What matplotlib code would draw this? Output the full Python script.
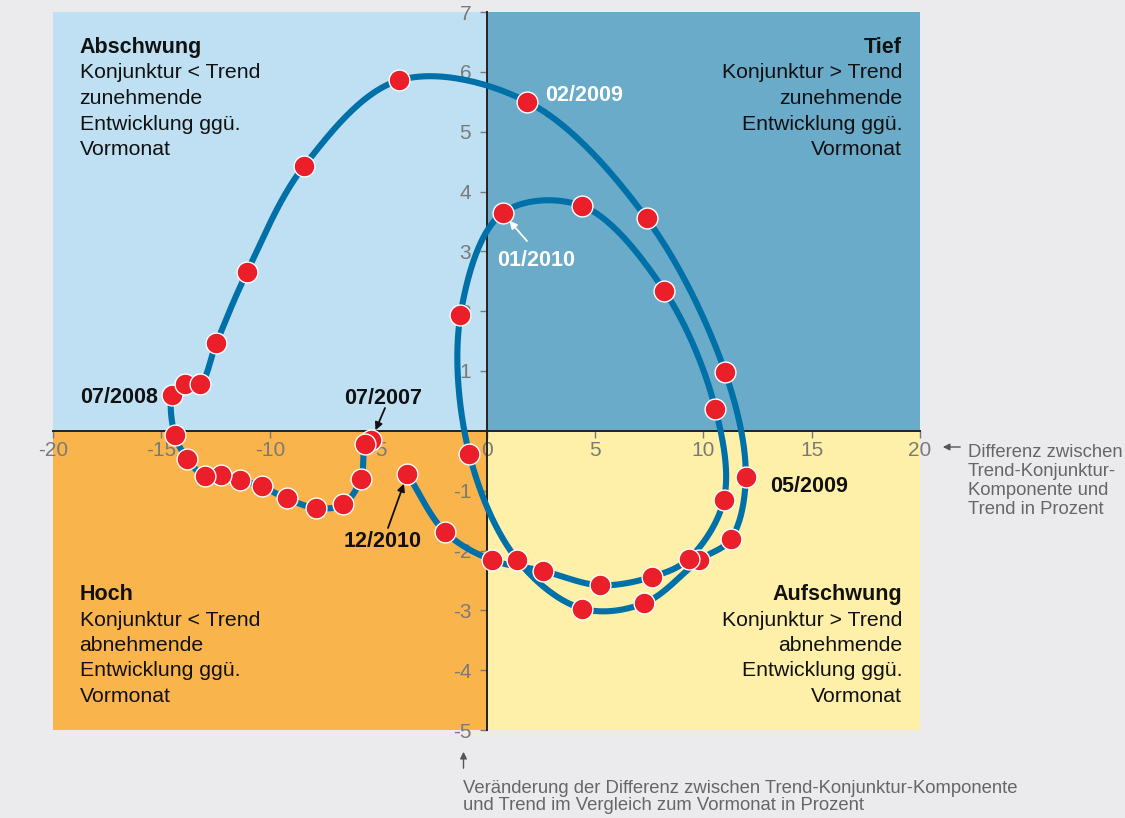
import matplotlib
matplotlib.use("Agg")
import matplotlib.pyplot as plt
from matplotlib.patches import FancyArrowPatch
import numpy as np

plt.rcParams['font.family'] = ['Liberation Sans', 'DejaVu Sans']

# monthly points 07/2007 .. 12/2010
# x: Differenz zwischen Trend-Konjunktur-Komponente und Trend (%)
# y: Veraenderung dieser Differenz zum Vormonat (%)
x_vals = [-5.31, -5.59, -5.79, -6.61, -7.87, -9.22, -10.38, -11.36, -12.25, -13.0,
          -13.8, -14.38, -14.49, -13.92, -13.2, -12.47, -11.04, -8.41, -4.02, 1.88,
          7.39, 11.0, 11.96, 11.27, 9.82, 7.28, 4.40, 1.43, -0.79, -1.2,
          0.74, 4.40, 8.21, 10.56, 10.95, 9.33, 7.64, 5.22, 2.60, 0.25,
          -1.91, -3.65]
y_vals = [-0.15, -0.22, -0.80, -1.23, -1.29, -1.13, -0.93, -0.82, -0.74, -0.76,
          -0.47, -0.07, 0.60, 0.78, 0.79, 1.46, 2.66, 4.43, 5.86, 5.50,
          3.55, 0.99, -0.77, -1.81, -2.16, -2.88, -2.97, -2.16, -0.39, 1.94,
          3.64, 3.76, 2.34, 0.37, -1.15, -2.14, -2.44, -2.58, -2.34, -2.16,
          -1.69, -0.72]

x_ticks = [-20, -15, -10, -5, 0, 5, 10, 15, 20]
y_ticks = [-5, -4, -3, -2, -1, 1, 2, 3, 4, 5, 6, 7]

quad_titles = ['Abschwung', 'Tief', 'Hoch', 'Aufschwung']
quad_lines = [['Konjunktur < Trend', 'zunehmende', 'Entwicklung ggü.', 'Vormonat'],
              ['Konjunktur > Trend', 'zunehmende', 'Entwicklung ggü.', 'Vormonat'],
              ['Konjunktur < Trend', 'abnehmende', 'Entwicklung ggü.', 'Vormonat'],
              ['Konjunktur > Trend', 'abnehmende', 'Entwicklung ggü.', 'Vormonat']]

c_bg = '#ebebee'
c_tl = '#bee0f2'
c_tr = '#6aabca'
c_bl = '#fab44c'
c_br = '#fff0a9'
c_line = '#0070a8'
c_dot = '#ea1f29'
c_grey = '#7a7a7a'
c_note = '#666666'

W, H = 1125, 818


def fx(px):
    return px / W


def fy(py):
    return 1 - py / H


def catmull_rom(px, py, n=30, alpha=0.5):
    # smooth drawing curve through the points (centripetal catmull-rom)
    P = np.column_stack([px, py])
    P = np.vstack([2 * P[0] - P[1], P, 2 * P[-1] - P[-2]])
    out = []
    for i in range(1, len(P) - 2):
        p0, p1, p2, p3 = P[i - 1], P[i], P[i + 1], P[i + 2]
        t0 = 0.0
        t1 = t0 + np.linalg.norm(p1 - p0) ** alpha + 1e-9
        t2 = t1 + np.linalg.norm(p2 - p1) ** alpha + 1e-9
        t3 = t2 + np.linalg.norm(p3 - p2) ** alpha + 1e-9
        t = np.linspace(t1, t2, n)[:, None]
        a1 = (t1 - t) / (t1 - t0) * p0 + (t - t0) / (t1 - t0) * p1
        a2 = (t2 - t) / (t2 - t1) * p1 + (t - t1) / (t2 - t1) * p2
        a3 = (t3 - t) / (t3 - t2) * p2 + (t - t2) / (t3 - t2) * p3
        b1 = (t2 - t) / (t2 - t0) * a1 + (t - t0) / (t2 - t0) * a2
        b2 = (t3 - t) / (t3 - t1) * a2 + (t - t1) / (t3 - t1) * a3
        c = (t2 - t) / (t2 - t1) * b1 + (t - t1) / (t2 - t1) * b2
        out.append(c)
    return np.vstack(out)


fig = plt.figure(figsize=(11.25, 8.18), dpi=100, facecolor=c_bg)
ax = fig.add_axes([fx(53), fy(730), fx(920) - fx(53), fy(12) - fy(730)])
ax.set_facecolor('none')
ax.set_xlim(-20, 20)
ax.set_ylim(-5, 7)

# quadrants
ax.fill_between([-20, 0], 0, 7, color=c_tl, lw=0, zorder=0)
ax.fill_between([0, 20], 0, 7, color=c_tr, lw=0, zorder=0)
ax.fill_between([-20, 0], -5, 0, color=c_bl, lw=0, zorder=0)
ax.fill_between([0, 20], -5, 0, color=c_br, lw=0, zorder=0)

# smooth line, y scaled to screen aspect for the parametrisation
k = 59.8 / 21.7
curve = catmull_rom(np.array(x_vals), np.array(y_vals) * k)
ax.plot(curve[:, 0], curve[:, 1] / k, color=c_line, lw=4.4, zorder=3,
        solid_capstyle='butt')
ax.plot(x_vals, y_vals, 'o', ms=15, mfc=c_dot, mec='white', mew=1.0, zorder=4)

# axes through origin
for s in ['top', 'right']:
    ax.spines[s].set_visible(False)
for s in ['left', 'bottom']:
    ax.spines[s].set_position(('data', 0))
    ax.spines[s].set_color('#222222')
    ax.spines[s].set_linewidth(1.4)
    ax.spines[s].set_zorder(2)
ax.set_xticks(x_ticks)
ax.set_xticklabels([str(v) for v in x_ticks])
ax.set_yticks(y_ticks)
ax.set_yticklabels([str(v) for v in y_ticks])
ax.tick_params(axis='both', colors=c_grey, labelsize=15, length=5, width=1)
ax.tick_params(axis='x', pad=2)
ax.tick_params(axis='y', pad=6)

# quadrant texts, one text per line
quad_x = [79.5, 902, 79.5, 902]
quad_y = [53, 53, 600, 600]
quad_ha = ['left', 'right', 'left', 'right']
step = 25.5
for title, lines, qx, qy, ha in zip(quad_titles, quad_lines, quad_x, quad_y, quad_ha):
    fig.text(fx(qx), fy(qy), title, fontsize=15.5, fontweight='bold', color='#111111',
             ha=ha, va='baseline')
    for j, line in enumerate(lines):
        fig.text(fx(qx), fy(qy + step * (j + 1)), line, fontsize=15.3, color='#111111',
                 ha=ha, va='baseline')

# date labels
lkw = dict(fontsize=15.5, fontweight='bold', va='baseline')
fig.text(fx(545), fy(101), '02/2009', color='white', **lkw)
fig.text(fx(497), fy(266), '01/2010', color='white', **lkw)
fig.text(fx(80), fy(403), '07/2008', color='#111111', **lkw)
fig.text(fx(344), fy(404), '07/2007', color='#111111', **lkw)
fig.text(fx(770), fy(492), '05/2009', color='#111111', **lkw)
fig.text(fx(344), fy(547), '12/2010', color='#111111', **lkw)

akw = dict(arrowstyle='-|>', lw=1.3, mutation_scale=11, shrinkA=0, shrinkB=7.5)
ax.annotate('', xy=(x_vals[30], y_vals[30]), xytext=(fx(527), fy(241)),
            textcoords='figure fraction', arrowprops=dict(color='white', **akw), zorder=6)
ax.annotate('', xy=(x_vals[0], y_vals[0]), xytext=(fx(385), fy(408)),
            textcoords='figure fraction', arrowprops=dict(color='#111111', **akw), zorder=6)
ax.annotate('', xy=(x_vals[41], y_vals[41]), xytext=(fx(388), fy(528)),
            textcoords='figure fraction', arrowprops=dict(color='#111111', **akw), zorder=6)

# axis descriptions outside the plot
right_note = ['Differenz zwischen', 'Trend-Konjunktur-', 'Komponente und', 'Trend in Prozent']
for j, line in enumerate(right_note):
    fig.text(fx(968), fy(457 + 19 * j), line, fontsize=13.3, color=c_note,
             ha='left', va='baseline')
fig.add_artist(FancyArrowPatch((fx(963), fy(447)), (fx(940), fy(447)),
               transform=fig.transFigure, arrowstyle='-|>', color='#555555',
               lw=1, mutation_scale=10))

bottom_note = ['Veränderung der Differenz zwischen Trend-Konjunktur-Komponente',
               'und Trend im Vergleich zum Vormonat in Prozent']
for j, line in enumerate(bottom_note):
    fig.text(fx(463), fy(793 + 17.5 * j), line, fontsize=13.3, color=c_note,
             ha='left', va='baseline')
fig.add_artist(FancyArrowPatch((fx(463.5), fy(771)), (fx(463.5), fy(749)),
               transform=fig.transFigure, arrowstyle='-|>', color='#555555',
               lw=1, mutation_scale=10))

fig.savefig('out.png', dpi=100, facecolor=c_bg)
